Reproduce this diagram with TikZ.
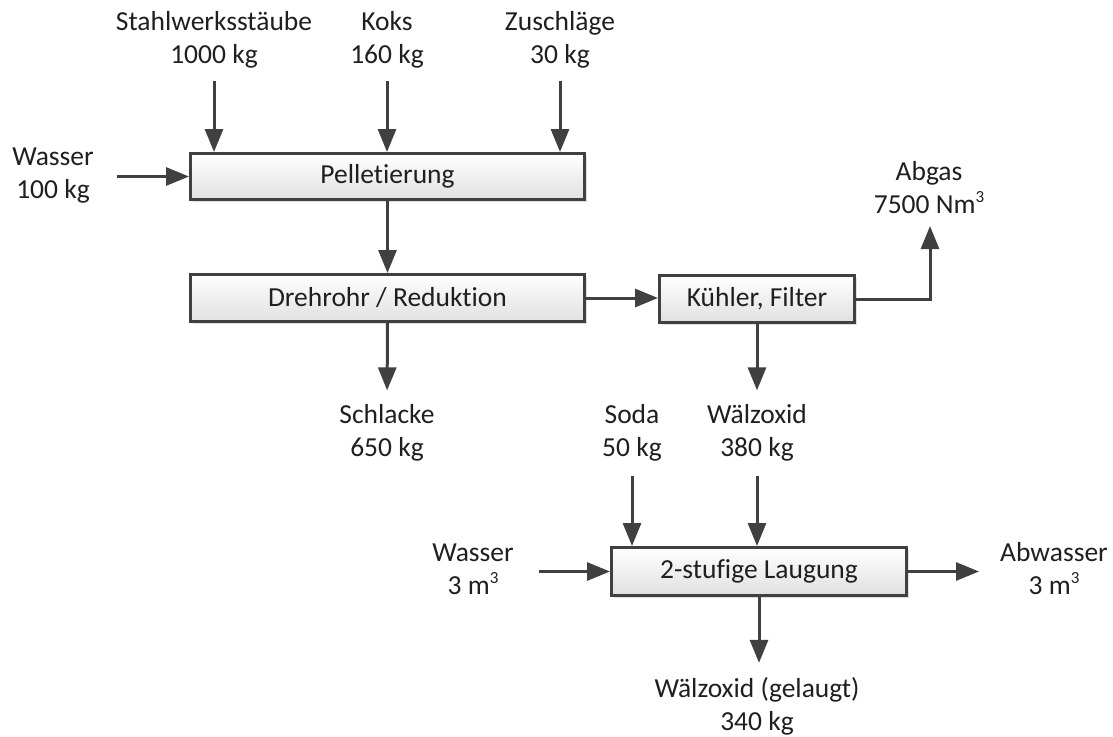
\documentclass[tikz,border=0pt]{standalone}
\usepackage{fontspec}
\setmainfont{Carlito}[Ligatures=NoCommon]
\usetikzlibrary{arrows.meta,shadows}
\definecolor{ln}{HTML}{404040}
\newcommand{\fs}{\fontsize{27.5}{33}\selectfont}
\newcommand{\sups}[1]{\raisebox{0.85ex}{\fontsize{17}{17}\selectfont #1}}
\begin{document}
\begin{tikzpicture}[x=1pt,y=-1pt,
  box/.style={draw=ln,line width=3pt,top color=white,bottom color=black!12,inner sep=0pt,font=\fs,text=black!88,
    drop shadow={shadow xshift=2pt,shadow yshift=-2pt,fill=black,opacity=0.12}},
  lbl/.style={align=center,inner sep=0pt,font=\fs,text=black!88},
  flow/.style={draw=ln,line width=3pt,-{Triangle[length=23pt,width=18pt]}}]
\useasboundingbox (0,0) rectangle (1113,736);
% boxes
\node[box,minimum width=394pt,minimum height=46pt] (pel) at (387.5,176.5) {Pelletierung};
\node[box,minimum width=394pt,minimum height=47pt] (dr) at (387.5,298) {Drehrohr / Reduktion};
\node[box,minimum width=195pt,minimum height=47pt] (kf) at (757,299) {Kühler, Filter};
\node[box,minimum width=295pt,minimum height=48pt] (lg) at (759,571.5) {2-stufige Laugung};
% labels
\node[lbl] (sw) at (214,40) {Stahlwerksstäube\\1000 kg};
\node[lbl] (koks) at (387,40) {Koks\\160 kg};
\node[lbl] (zu) at (560,40) {Zuschläge\\30 kg};
\node[lbl] (w1) at (53,176) {Wasser\\100 kg};
\node[lbl] (abgas) at (929,188) {Abgas\\7500 Nm\sups{3}};
\node[lbl] (sch) at (387,433) {Schlacke\\650 kg};
\node[lbl] (soda) at (632,433) {Soda\\50 kg};
\node[lbl] (wo) at (757,433) {Wälzoxid\\380 kg};
\node[lbl] (w2) at (473,569) {Wasser\\3 m\sups{3}};
\node[lbl] (abw) at (1054,569) {Abwasser\\3 m\sups{3}};
\node[lbl] (wog) at (757,706) {Wälzoxid (gelaugt)\\340 kg};
\coordinate (agt) at (930,226);
% flows
\draw[flow,shorten <=12pt] (sw.south) -- (sw.south |- pel.north);
\draw[flow,shorten <=12pt] (koks.south) -- (koks.south |- pel.north);
\draw[flow,shorten <=12pt] (zu.south) -- (zu.south |- pel.north);
\draw[flow] (w1.east |- pel.west) ++(23,0) -- (pel.west);
\draw[flow] (pel.south) -- (dr.north);
\draw[flow] (dr.east) -- (dr.east -| kf.west);
\draw[flow] (kf.east) -| (agt);
\draw[flow,shorten >=14pt] (dr.south) -- (sch.north);
\draw[flow,shorten >=14pt] (kf.south) -- (kf.south |- wo.north);
\draw[flow,shorten <=14pt] (soda.south) -- (soda.south |- lg.north);
\draw[flow,shorten <=14pt] (wo.south) -- (wo.south |- lg.north);
\draw[flow] (w2.east |- lg.west) ++(25,0) -- (lg.west);
\draw[flow] (lg.east) -- ++(71,0) coordinate (abwt);
\draw[flow,shorten >=14pt] (lg.south) -- (lg.south |- wog.north);
\end{tikzpicture}
\end{document}
